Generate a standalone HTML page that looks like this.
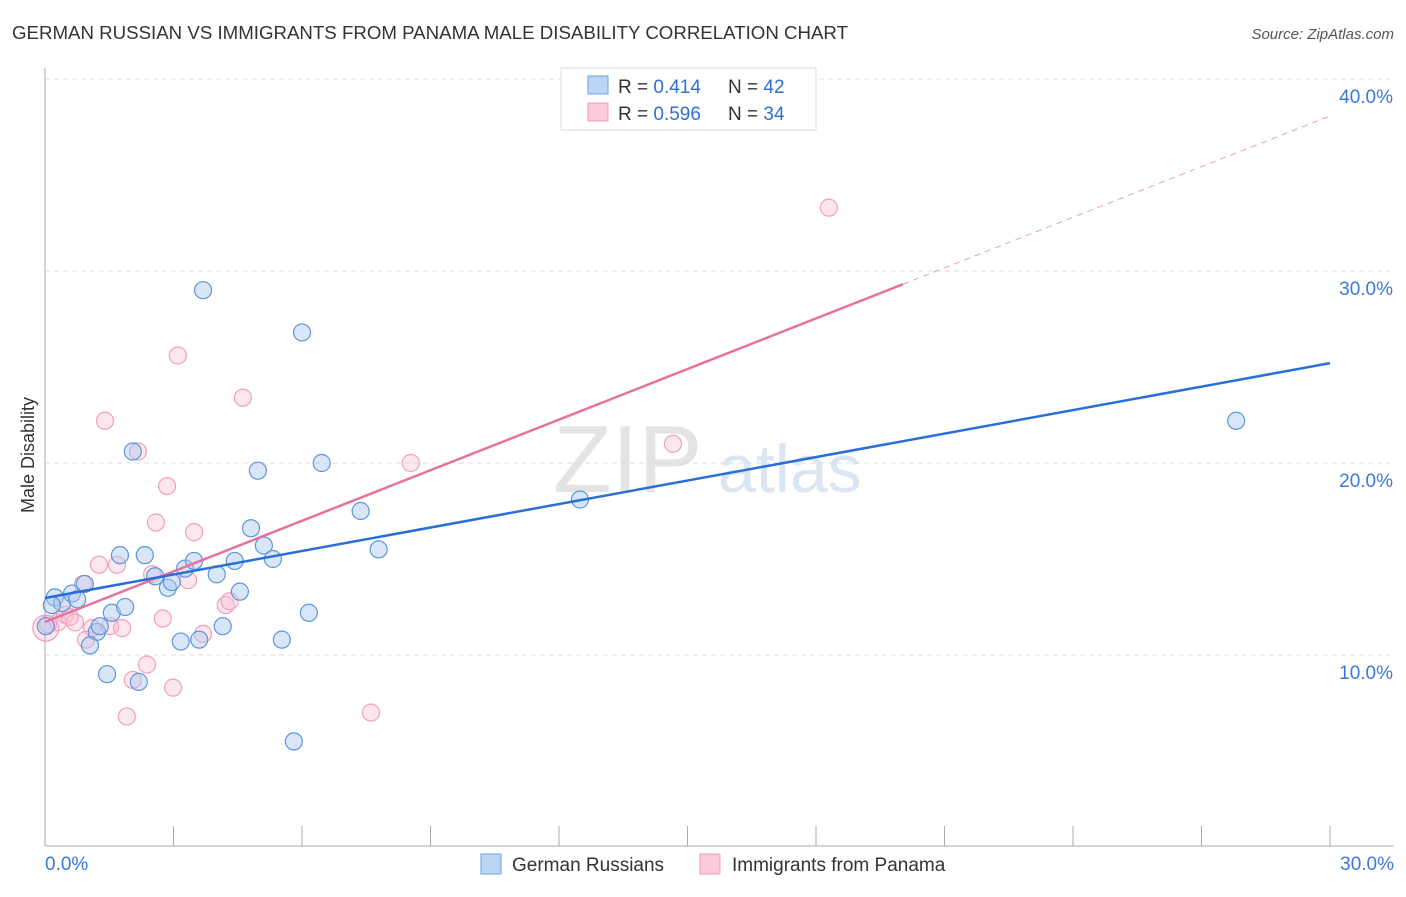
<!DOCTYPE html>
<html><head><meta charset="utf-8"><style>
body{margin:0;background:#fff;font-family:"Liberation Sans",sans-serif;}
svg text{font-family:"Liberation Sans",sans-serif;}
</style></head><body>
<svg id="chart" width="1406" height="892">
<text x="12" y="39" font-size="18" fill="#333" textLength="836" lengthAdjust="spacingAndGlyphs">GERMAN RUSSIAN VS IMMIGRANTS FROM PANAMA MALE DISABILITY CORRELATION CHART</text>
<text x="1394" y="39" font-size="15" fill="#555" font-style="italic" text-anchor="end">Source: ZipAtlas.com</text>
<text x="553" y="492" font-size="96" fill="#e4e4e4" font-family="Liberation Serif">ZIP</text>
<text x="718" y="492" font-size="68" fill="#dbe6f3">atlas</text>
<text transform="translate(34,455) rotate(-90)" font-size="18" fill="#333" text-anchor="middle">Male Disability</text>
<g id="grid"></g><g id="axes"></g><g id="marks"></g><g id="lines"></g>
<g>
<rect x="561" y="68" width="255" height="62" fill="#fff" stroke="#ddd"/>
<rect x="588" y="76" width="20" height="18" fill="#bcd5f5" stroke="#6a9ee0"/>
<rect x="588" y="103" width="20" height="18" fill="#fbcbd9" stroke="#f09ab5"/>
<text x="618" y="93" font-size="19" fill="#333">R = <tspan fill="#2f6fd6">0.414</tspan></text>
<text x="728" y="93" font-size="19" fill="#333">N = <tspan fill="#2f6fd6">42</tspan></text>
<text x="618" y="120" font-size="19" fill="#333">R = <tspan fill="#2f6fd6">0.596</tspan></text>
<text x="728" y="120" font-size="19" fill="#333">N = <tspan fill="#2f6fd6">34</tspan></text>
</g>
<g>
<rect x="481" y="854" width="20" height="20" fill="#bcd5f5" stroke="#6a9ee0"/>
<text x="512" y="871" font-size="19" fill="#333">German Russians</text>
<rect x="700" y="854" width="20" height="20" fill="#fbcbd9" stroke="#f09ab5"/>
<text x="732" y="871" font-size="19" fill="#333">Immigrants from Panama</text>
</g>
</svg>
<script>
const blueX=[0.23,0.40,0.63,0.75,0.93,1.21,1.05,1.45,1.56,1.75,1.87,2.05,2.19,2.33,2.57,2.87,2.96,3.17,3.27,3.48,3.60,3.69,4.01,4.15,4.43,4.55,4.81,4.97,5.11,5.32,5.53,5.81,6.00,6.16,6.46,7.37,7.79,12.49,27.81,0.02,0.16,1.28];
const blueY=[13.0,12.7,13.2,12.9,13.7,11.2,10.5,9.0,12.2,15.2,12.5,20.6,8.6,15.2,14.1,13.5,13.8,10.7,14.5,14.9,10.8,29.0,14.2,11.5,14.9,13.3,16.6,19.6,15.7,15.0,10.8,5.5,26.8,12.2,20.0,17.5,15.5,18.1,22.2,11.5,12.6,11.5];
const pinkX=[0.02,0.30,0.47,0.70,0.89,1.10,1.26,1.40,1.52,1.68,1.80,1.91,2.05,2.17,2.38,2.50,2.59,2.75,2.85,2.99,3.10,3.34,3.48,3.69,4.22,4.31,4.62,7.61,8.54,14.66,18.30,0.07,0.58,0.96];
const pinkY=[11.4,11.7,12.1,11.7,13.7,11.4,14.7,22.2,11.5,14.7,11.4,6.8,8.7,20.6,9.5,14.2,16.9,11.9,18.8,8.3,25.6,13.9,16.4,11.1,12.6,12.8,23.4,7.0,20.0,21.0,33.3,11.6,11.98,10.8];
const blueLine=[0,12.97,30,25.2];
const pinkLine=[0,11.72,20.03,30,38.07];
const NS='http://www.w3.org/2000/svg';
const X=v=>45+v/30*1285, Y=v=>847-v*19.2;
function mk(p,t,a){const e=document.createElementNS(NS,t);for(const k in a)e.setAttribute(k,a[k]);p.appendChild(e);return e;}
const grid=document.getElementById('grid'),axes=document.getElementById('axes'),marks=document.getElementById('marks'),lines=document.getElementById('lines');
const yTicks=[10,20,30,40],yTickLabels=['10.0%','20.0%','30.0%','40.0%'];
yTicks.forEach((t,i)=>{
 const l=mk(grid,'line',{x1:45,x2:1394,y1:Y(t),y2:Y(t),stroke:'#ddd','stroke-dasharray':'5,4'});
 
 
 const tx=mk(axes,'text',{x:1393,y:Y(t)+24,'font-size':19,fill:'#3b78d8','text-anchor':'end'});tx.textContent=yTickLabels[i];
 
 
});
const ax=mk(axes,'line',{x1:45,x2:45,y1:68,y2:846,stroke:'#aaa'});


const bx=mk(axes,'line',{x1:45,x2:1394,y1:846,y2:846,stroke:'#aaa'});


for(let i=0;i<=10;i++){const t=mk(axes,'line',{x1:X(i*3),x2:X(i*3),y1:826,y2:846,stroke:'#aaa'});
 
 }
const xl=[['0.0%',45,'start'],['30.0%',1394,'end']];
xl.forEach(a=>{const t=mk(axes,'text',{x:a[1],y:870,'font-size':19,fill:'#3b78d8','text-anchor':a[2]});t.textContent=a[0];
 
 });
pinkX.forEach((v,i)=>{const c=mk(marks,'circle',{cx:X(v),cy:Y(pinkY[i]),r:i==0?13:8.5,fill:'rgba(248,185,205,0.35)',stroke:'#f0a0ba','stroke-width':1.2});
 
 });
blueX.forEach((v,i)=>{const c=mk(marks,'circle',{cx:X(v),cy:Y(blueY[i]),r:8.5,fill:'rgba(170,200,240,0.45)',stroke:'#5d95dc','stroke-width':1.2});
 
 });
const pl=v=>pinkLine[1]+(pinkLine[4]-pinkLine[1])*v/pinkLine[3];
const p1=mk(lines,'line',{x1:X(0),y1:Y(pinkLine[1]),x2:X(pinkLine[2]),y2:Y(pl(pinkLine[2])),stroke:'#e8709a','stroke-width':2.5});


const p2=mk(lines,'line',{x1:X(pinkLine[2]),y1:Y(pl(pinkLine[2])),x2:X(pinkLine[3]),y2:Y(pinkLine[4]),stroke:'#e8a0b8','stroke-width':1,'stroke-dasharray':'6,5'});


const b1=mk(lines,'line',{x1:X(blueLine[0]),y1:Y(blueLine[1]),x2:X(blueLine[2]),y2:Y(blueLine[3]),stroke:'#2a6fd6','stroke-width':2.5});


</script>
</body></html>
